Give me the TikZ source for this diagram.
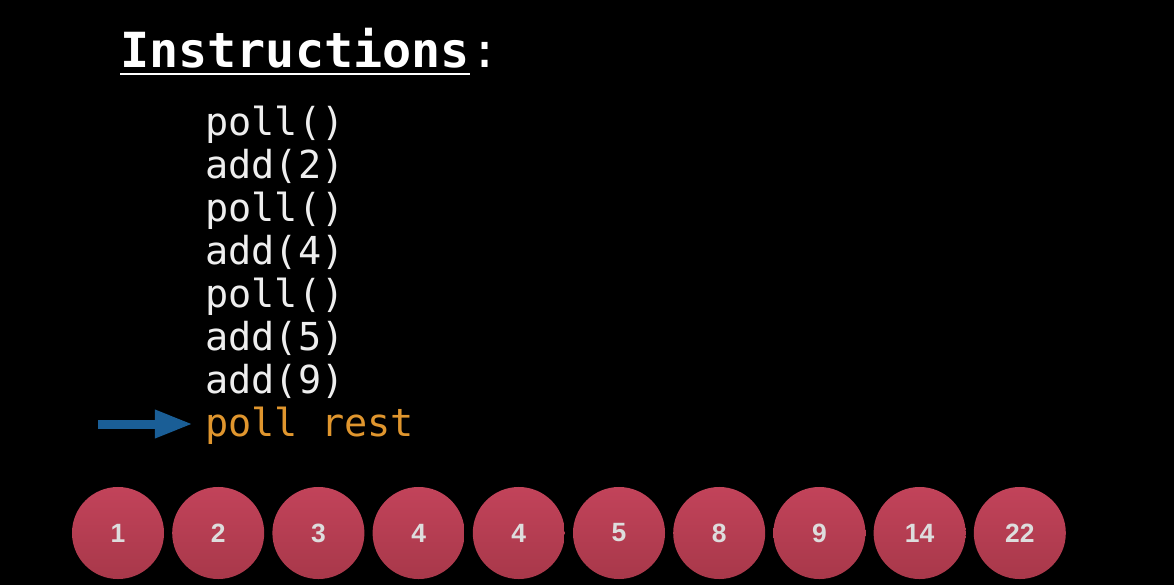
\documentclass[tikz,border=0pt]{standalone}
\usepackage{fontspec}
\setmonofont{DejaVu Sans Mono}
\setsansfont{Liberation Sans}
\usetikzlibrary{positioning,arrows.meta,shadings}

\definecolor{instrwhite}{HTML}{EEEEEE}
\definecolor{instrorange}{HTML}{E0962E}
\definecolor{pqblue}{HTML}{1A5E96}
\definecolor{pqtop}{HTML}{C2435A}
\definecolor{pqbot}{HTML}{A8384A}
\definecolor{pqtext}{HTML}{DDDDDD}

\tikzset{
    instr/.style={anchor=base west, inner sep=0pt, text=instrwhite,
        font=\ttfamily\fontsize{27.4}{33}\selectfont},
    current/.style={instr, text=instrorange},
    heading/.style={anchor=base west, inner sep=0pt, text=white,
        font=\ttfamily\bfseries\fontsize{34.4}{41}\selectfont},
    pqnode/.style={circle, minimum size=2.3cm, inner sep=0pt,
        top color=pqtop, bottom color=pqbot, text=pqtext,
        font=\sffamily\bfseries\fontsize{18.8}{22}\selectfont},
    pointer/.style={line width=0.225cm, pqblue,
        -{Triangle[length=0.95cm,width=0.65cm]}},
}

\begin{document}
\begin{tikzpicture}[x=0.025cm, y=-0.025cm]
\fill[black] (0,0) rectangle (1174,585);
\useasboundingbox (0,0) rectangle (1174,585);

% heading
\node[heading] at (120,67) (title) {Instructions};
\node[heading, font=\ttfamily\fontsize{34.4}{41}\selectfont, anchor=base west]
    at (title.base east) (colon) {:};
\draw[white, line width=0.05cm] ([yshift=-5]title.base west) -- ([yshift=-5]title.base east);

% instruction list
\foreach \ins [count=\k] in {poll(), add(2), poll(), add(4), poll(), add(5), add(9)}
    \node[instr] at (205,{135+43*(\k-1)}) (i\k) {\ins};
\node[current] at (205,436) (cur) {poll rest};

\coordinate (tail) at (98,424);
\draw[pointer, shorten >=0.3cm] (tail) -- (tail -| cur.west);

% priority queue contents
\foreach \v [count=\k] in {1,2,3,4,4,5,8,9,14,22}
    \node[pqnode] at ({118+100.2*(\k-1)},533) (c\k) {\v};
\end{tikzpicture}
\end{document}
